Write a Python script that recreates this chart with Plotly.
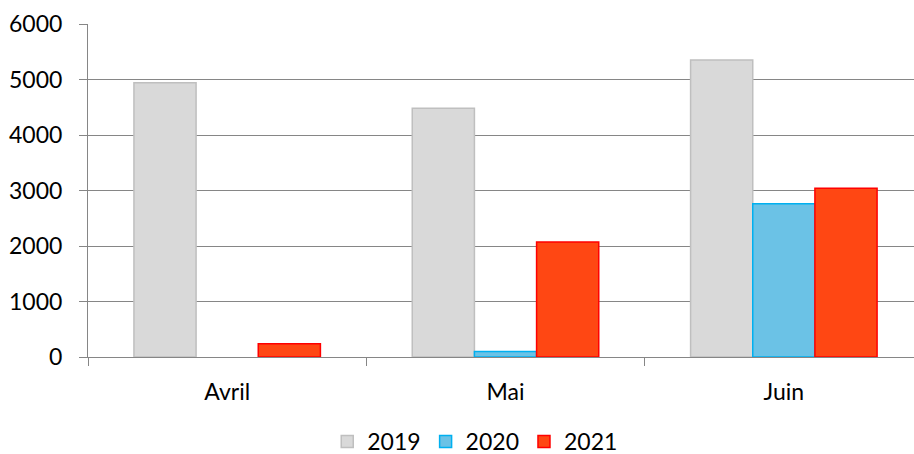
import plotly.graph_objects as go

months = ["Avril", "Mai", "Juin"]
v2019 = [4940, 4480, 5350]
v2020 = [None, 100, 2760]
v2021 = [240, 2070, 3040]

series = [
    ("2019", v2019, "#D9D9D9", "#BFBFBF"),
    ("2020", v2020, "#6BC2E6", "#00B0F0"),
    ("2021", v2021, "#FF4713", "#FF0000"),
]

fig = go.Figure()
for name, vals, fill, line in series:
    fig.add_trace(go.Bar(
        x=months, y=vals, name=name,
        marker=dict(color=fill, line=dict(color=line, width=1.5)),
    ))

font = "Lato, 'Open Sans', sans-serif"
fs = 23
fig.update_layout(
    width=927, height=454,
    margin=dict(l=88, r=4, t=24, b=97),
    paper_bgcolor="white", plot_bgcolor="white",
    barmode="group", bargap=0.33, bargroupgap=0,
    font=dict(family=font, size=fs, color="#000000"),
    showlegend=True,
    legend=dict(orientation="h", xref="container", yref="container",
                x=0.353, xanchor="left", y=0.075, yanchor="top",
                font=dict(size=fs), itemwidth=30, traceorder="normal"),
    xaxis=dict(
        showline=True, linecolor="#868686", linewidth=1,
        ticks="outside", tickson="boundaries", ticklen=8, tickcolor="#868686",
        showgrid=False, tickfont=dict(size=fs), automargin=False,
        ticklabelstandoff=14,
    ),
    yaxis=dict(
        range=[0, 6000], dtick=1000,
        showline=True, linecolor="#868686", linewidth=1,
        ticks="outside", ticklen=8, tickcolor="#868686",
        showgrid=True, gridcolor="#868686", gridwidth=1,
        zeroline=False, tickfont=dict(size=fs), ticklabelstandoff=12,
        automargin=False,
    ),
)

fig.write_html(
    "out.html",
    config={"displayModeBar": False},
    post_script="document.body.style.margin='0';document.body.style.overflow='hidden';",
)
